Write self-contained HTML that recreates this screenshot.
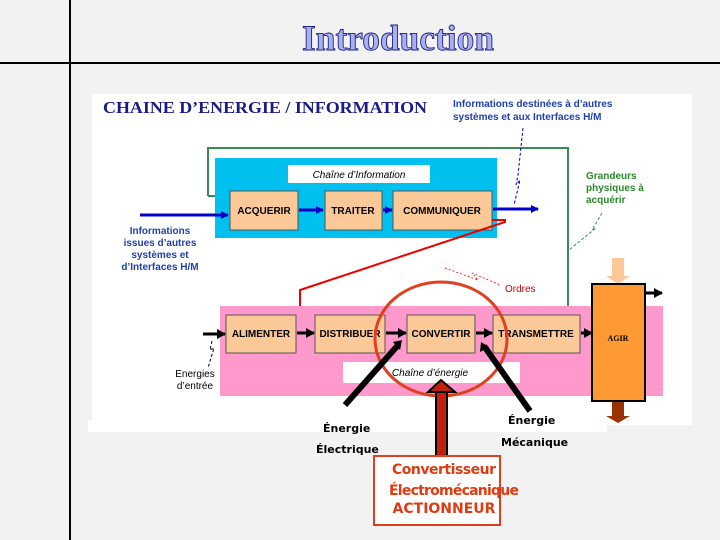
<!DOCTYPE html>
<html><head><meta charset="utf-8"><style>
body{margin:0;width:720px;height:540px;background:#f2f2f2;overflow:hidden}
svg{display:block}
.s{font-family:"Liberation Sans",sans-serif;font-weight:bold}
</style></head><body>
<svg width="720" height="540" viewBox="0 0 720 540">
<defs>
<marker id="ab" markerWidth="8" markerHeight="8" refX="7" refY="4" orient="auto" markerUnits="userSpaceOnUse"><path d="M0,0L8,4L0,8z" fill="#0000cc"/></marker>
<marker id="ag" markerWidth="8" markerHeight="8" refX="7" refY="4" orient="auto" markerUnits="userSpaceOnUse"><path d="M0,0L8,4L0,8z" fill="#3a8a5a"/></marker>
<marker id="ar" markerWidth="9" markerHeight="9" refX="8" refY="4.5" orient="auto" markerUnits="userSpaceOnUse"><path d="M0,0L9,4.5L0,9" fill="none" stroke="#e00" stroke-width="1.5"/></marker>
<marker id="ak" markerWidth="9" markerHeight="10" refX="8" refY="5" orient="auto" markerUnits="userSpaceOnUse"><path d="M0,0L9,5L0,10z" fill="#000"/></marker>
</defs>
<line x1="70" y1="0" x2="70" y2="540" stroke="#000" stroke-width="2"/>
<line x1="0" y1="63" x2="720" y2="63" stroke="#000" stroke-width="2"/>
<text x="302" y="50" font-family="Liberation Serif,serif" font-weight="bold" font-size="36" fill="#a8b0f0" stroke="#202080" stroke-width="0.9" textLength="192" lengthAdjust="spacingAndGlyphs">Introduction</text>
<rect x="92" y="94" width="600" height="331" fill="#fff"/>
<rect x="88" y="420" width="519" height="12" fill="#fff"/>
<text x="103" y="113" font-family="Liberation Serif,serif" font-weight="bold" font-size="17" fill="#1a1a8a" textLength="324" lengthAdjust="spacingAndGlyphs">CHAINE D’ENERGIE / INFORMATION</text>
<text class="s" x="453" y="107" font-size="10" fill="#2040b0">Informations destinées à d’autres</text>
<text class="s" x="453" y="120" font-size="10" fill="#2040b0">systèmes et aux Interfaces H/M</text>
<polyline points="208,196 208,148 568,148 568,306" fill="none" stroke="#3a8a5a" stroke-width="2"/>
<line x1="208" y1="196" x2="229" y2="196" stroke="#3a8a5a" stroke-width="2" marker-end="url(#ag)"/>
<rect x="215" y="158" width="282" height="80" fill="#00c0f0"/>
<rect x="288" y="165" width="142" height="18" fill="#fff"/>
<text x="359" y="178" text-anchor="middle" font-family="Liberation Sans,sans-serif" font-style="italic" font-size="10">Chaîne d’Information</text>
<g fill="#fbc898" stroke="#555" stroke-width="1">
<rect x="230" y="191" width="68" height="39"/><rect x="325" y="191" width="57" height="39"/><rect x="393" y="191" width="99" height="39"/>
</g>
<g class="s" font-size="10" text-anchor="middle">
<text x="264" y="214">ACQUERIR</text><text x="353" y="214">TRAITER</text><text x="442" y="214">COMMUNIQUER</text>
</g>
<g stroke="#0000cc" stroke-width="3">
<line x1="140" y1="215" x2="228" y2="215" marker-end="url(#ab)"/>
<line x1="299" y1="210" x2="323" y2="210" marker-end="url(#ab)"/>
<line x1="383" y1="210" x2="392" y2="210" marker-end="url(#ab)"/>
<line x1="493" y1="209" x2="538" y2="209" marker-end="url(#ab)"/>
</g>
<polyline points="523,128 518,175 516,185 520,180 514,205" fill="none" stroke="#0000cc" stroke-dasharray="3,2"/>
<g class="s" font-size="10" fill="#2040b0" text-anchor="middle">
<text x="160" y="234">Informations</text><text x="160" y="246">issues d’autres</text><text x="160" y="258">systèmes et</text><text x="160" y="270">d’Interfaces H/M</text>
</g>
<g class="s" font-size="10" fill="#2a8a2a"><text x="586" y="179">Grandeurs</text><text x="586" y="191">physiques à</text><text x="586" y="203">acquérir</text></g>
<polyline points="602,213 592,230 596,228 569,250" fill="none" stroke="#3a8a5a" stroke-dasharray="3,2"/>
<polyline points="492,220 505,220 505,222 300,290 300,327 313,327" fill="none" stroke="#e00" stroke-width="2" marker-end="url(#ar)"/>
<polyline points="445,268 478,280 472,273 500,285" fill="none" stroke="#e00" stroke-width="0.8" stroke-dasharray="2,2"/>
<text x="505" y="292" font-family="Liberation Sans,sans-serif" font-size="10" fill="#c00">Ordres</text>
<rect x="220" y="306" width="443" height="90" fill="#ff99cc"/>
<rect x="343" y="362" width="177" height="21" fill="#fff"/>
<text x="430" y="376" text-anchor="middle" font-family="Liberation Sans,sans-serif" font-style="italic" font-size="10">Chaîne d’énergie</text>
<g fill="#fbc898" stroke="#555" stroke-width="1">
<rect x="226" y="315" width="70" height="38"/><rect x="315" y="315" width="70" height="38"/><rect x="407" y="315" width="68" height="38"/><rect x="493" y="315" width="87" height="38"/>
</g>
<g class="s" font-size="10" text-anchor="middle">
<text x="261" y="337">ALIMENTER</text><text x="350" y="337">DISTRIBUER</text><text x="441" y="337">CONVERTIR</text><text x="536" y="337">TRANSMETTRE</text>
</g>
<g stroke="#000" stroke-width="3">
<line x1="203" y1="334" x2="225" y2="334" marker-end="url(#ak)"/>
<line x1="297" y1="333" x2="314" y2="333" marker-end="url(#ak)"/>
<line x1="386" y1="333" x2="406" y2="333" marker-end="url(#ak)"/>
<line x1="476" y1="333" x2="492" y2="333" marker-end="url(#ak)"/>
<line x1="581" y1="333" x2="592" y2="333" marker-end="url(#ak)"/>
<line x1="645" y1="293" x2="662" y2="293" marker-end="url(#ak)"/>
</g>
<polyline points="212,341 210,350 214,348 208,368" fill="none" stroke="#000" stroke-dasharray="3,2"/>
<g font-family="Liberation Sans,sans-serif" font-size="10" text-anchor="middle"><text x="195" y="377">Energies</text><text x="195" y="389">d’entrée</text></g>
<polygon points="612,258 624,258 624,276 630,276 618,284 606,276 612,276" fill="#fbc898"/>
<rect x="592" y="284" width="53" height="117" fill="#ff9933" stroke="#000" stroke-width="2"/>
<text x="618" y="341" text-anchor="middle" font-family="Liberation Serif,serif" font-weight="bold" font-size="8">AGIR</text>
<polygon points="612,402 624,402 624,416 630,416 618,423 606,416 612,416" fill="#993300"/>
<ellipse cx="441" cy="339" rx="66" ry="57" fill="none" stroke="#e04020" stroke-width="3"/>
<line x1="345" y1="405" x2="399" y2="344" stroke="#000" stroke-width="6"/>
<polygon points="402,340 393,342 400,350" fill="#000"/>
<line x1="530" y1="411" x2="484" y2="346" stroke="#000" stroke-width="6"/>
<polygon points="481,342 480,352 489,347" fill="#000"/>
<rect x="436" y="392" width="11" height="65" fill="#c02010" stroke="#000" stroke-width="2"/>
<polygon points="428,392 455,392 441,380" fill="#c02010" stroke="#000" stroke-width="2"/>
<g font-family="DejaVu Sans,sans-serif" font-weight="bold" font-size="11">
<text x="323" y="432">Énergie</text><text x="316" y="453">Électrique</text>
<text x="508" y="424">Énergie</text><text x="501" y="446">Mécanique</text>
</g>
<rect x="374" y="456" width="126" height="69" fill="#fff" stroke="#e04020" stroke-width="2"/>
<g font-family="DejaVu Sans,sans-serif" font-weight="bold" font-size="14" fill="#e03a10" text-anchor="middle">
<text x="444" y="474" textLength="104">Convertisseur</text>
<text x="454" y="495" textLength="130">Électromécanique</text>
<text x="444" y="513">ACTIONNEUR</text>
</g>
</svg>
</body></html>
